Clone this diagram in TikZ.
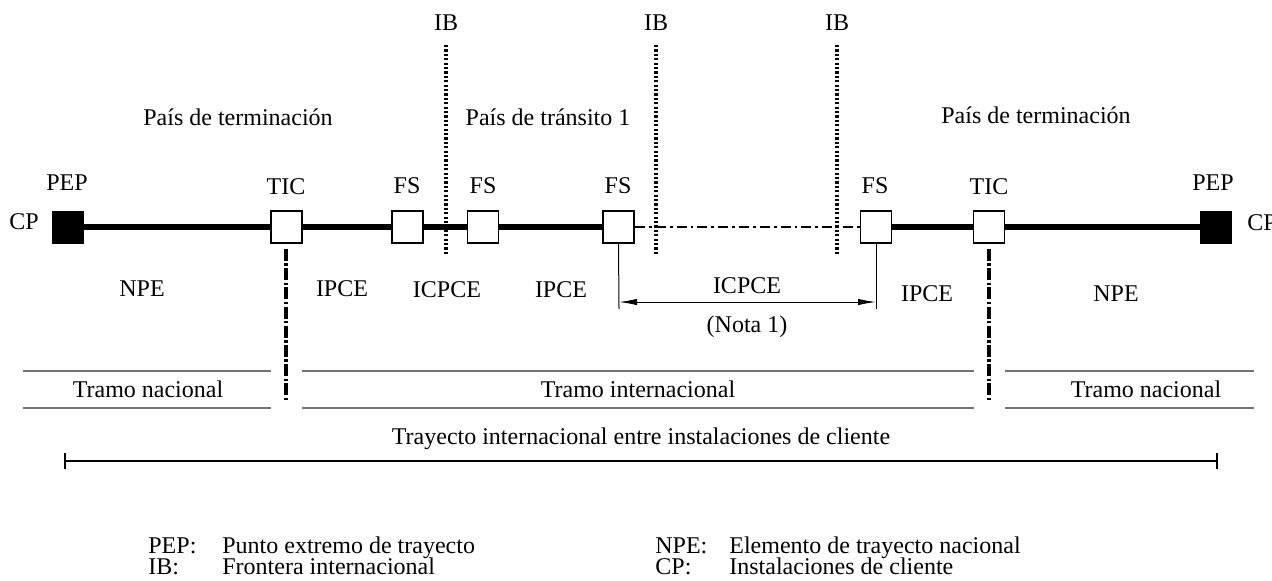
\documentclass[tikz,border=0pt]{standalone}
\usepackage{fontspec}
\setmainfont{Liberation Serif}
\usetikzlibrary{arrows.meta}
\begin{document}
\begin{tikzpicture}[x=0.5pt,y=-0.5pt,
  every node/.style={font=\fontsize{12}{14}\selectfont, inner sep=0pt},
  box/.style={draw, line width=0.9pt, fill=white, minimum width=15.5pt, minimum height=16pt},
  pepbox/.style={draw, fill=black, minimum width=15.5pt, minimum height=16pt},
  mainline/.style={line width=3.4pt},
  dashdotline/.style={line width=1.4pt, dash pattern=on 5pt off 2pt on 1.4pt off 2pt},
  ibline/.style={line width=1.6pt, dash pattern=on 1.1pt off 1.1pt},
  ticline/.style={line width=1.7pt, dash pattern=on 6pt off 1.2pt on 1.2pt off 1.2pt},
  thinline/.style={line width=0.5pt},
  tramoline/.style={line width=0.7pt, draw=black!55},
  lbl/.style={anchor=base west}
]
\useasboundingbox (0,0) rectangle (1272,580);

% boxes on the path
\node[pepbox] (pl) at (67.5,227) {};
\node[box] (tl) at (286.5,227) {};
\node[box] (f1) at (407.5,227) {};
\node[box] (f2) at (483,227) {};
\node[box] (f3) at (618.5,227) {};
\node[box] (f4) at (876,227) {};
\node[box] (tr) at (989,227) {};
\node[pepbox] (pr) at (1215.5,227) {};

% main path
\draw[mainline] (pl) -- (tl);
\draw[mainline] (tl) -- (f1);
\draw[mainline] (f1) -- (f2);
\draw[mainline] (f2) -- (f3);
\draw[dashdotline] (f3) -- (f4);
\draw[mainline] (f4) -- (tr);
\draw[mainline] (tr) -- (pr);

% international borders
\node (ib1) at (446,23) {IB};
\node (ib2) at (656,23) {IB};
\node (ib3) at (837,23) {IB};
\coordinate (ib1t) at (446,45); \coordinate (ib1b) at (446,255);
\coordinate (ib2t) at (656,45); \coordinate (ib2b) at (656,255);
\coordinate (ib3t) at (837,45); \coordinate (ib3b) at (837,255);
\draw[ibline] (ib1t) -- (ib1b);
\draw[ibline] (ib2t) -- (ib2b);
\draw[ibline] (ib3t) -- (ib3b);

% country labels
\node (c1) at (238,117) {País de terminación};
\node (c2) at (548,117) {País de tránsito 1};
\node (c3) at (1036,115) {País de terminación};

% element labels above
\node (pepl) at (67,183) {PEP};
\node (ticl) at (286,187) {TIC};
\node (fs1l) at (407,186) {FS};
\node (fs2l) at (483,186) {FS};
\node (fs3l) at (618,186) {FS};
\node (fs4l) at (875,186) {FS};
\node (ticr) at (989,187) {TIC};
\node (pepr) at (1213,183) {PEP};
\node (cpl) at (24,222) {CP};
\node[anchor=west] (cpr) at (1247,223) {CP};

% TIC division lines
\coordinate (tlt) at (286,249); \coordinate (tlb) at (286,401);
\coordinate (trt) at (989,249); \coordinate (trb) at (989,401);
\draw[ticline] (tlt) -- (tlb);
\draw[ticline] (trt) -- (trb);

% section labels
\node (npel) at (142,289) {NPE};
\node (ipce1) at (342,289) {IPCE};
\node (icpce1) at (447,290) {ICPCE};
\node (ipce2) at (561,290) {IPCE};
\node (icpce2) at (747,286) {ICPCE};
\node (nota) at (747,327) {(Nota 1)};
\node (ipce3) at (927,294) {IPCE};
\node (nper) at (1116,294) {NPE};

% ICPCE dimension
\coordinate (f3b) at (619,309);
\coordinate (f4b) at (876,309);
\draw[thinline] (f3.south) -- (f3b);
\draw[thinline] (f4.south) -- (f4b);
\coordinate (a1) at (619,302);
\coordinate (a2) at (876,302);
\draw[thinline, {Latex[length=9pt,width=3.2pt]}-{Latex[length=9pt,width=3.2pt]}] (a1) -- (a2);

% tramos
\draw[tramoline] (23,371) -- (271,371) (23,408) -- (271,408);
\draw[tramoline] (302,371) -- (974,371) (302,408) -- (974,408);
\draw[tramoline] (1005,371) -- (1254,371) (1005,408) -- (1254,408);
\node (tn1) at (148,389) {Tramo nacional};
\node (ti) at (638,389) {Tramo internacional};
\node (tn2) at (1146,389) {Tramo nacional};

% trayecto
\node (tray) at (641,439) {Trayecto internacional entre instalaciones de cliente};
\coordinate (y1) at (65,461); \coordinate (y2) at (1217,461);
\draw[line width=1.4pt] (y1) -- (y2);
\draw[line width=1.4pt] (65,453) -- (65,469);
\draw[line width=1.4pt] (1217,453) -- (1217,469);

% legend
\node[lbl] (g1) at (148,553) {PEP:};
\node[lbl] (g1t) at (222,553) {Punto extremo de trayecto};
\node[lbl] (g2) at (148,574) {IB:};
\node[lbl] (g2t) at (222,574) {Frontera internacional};
\node[lbl] (g3) at (655,553) {NPE:};
\node[lbl] (g3t) at (729,553) {Elemento de trayecto nacional};
\node[lbl] (g4) at (655,574) {CP:};
\node[lbl] (g4t) at (729,574) {Instalaciones de cliente};
\end{tikzpicture}
\end{document}
